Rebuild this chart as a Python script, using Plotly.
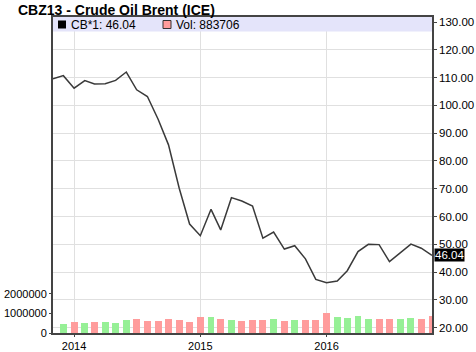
import plotly.graph_objects as go

# Monthly data (Nov 2013 .. Nov 2016)
price_months = ["2013-11-01", "2013-12-01",
                "2014-01-01", "2014-02-01", "2014-03-01", "2014-04-01", "2014-05-01", "2014-06-01",
                "2014-07-01", "2014-08-01", "2014-09-01", "2014-10-01", "2014-11-01", "2014-12-01",
                "2015-01-01", "2015-02-01", "2015-03-01", "2015-04-01", "2015-05-01", "2015-06-01",
                "2015-07-01", "2015-08-01", "2015-09-01", "2015-10-01", "2015-11-01", "2015-12-01",
                "2016-01-01", "2016-02-01", "2016-03-01", "2016-04-01", "2016-05-01", "2016-06-01",
                "2016-07-01", "2016-08-01", "2016-09-01", "2016-10-01", "2016-11-01"]
price = [109.6, 110.7,
         106.2, 108.9, 107.7, 107.8, 109.0, 112.0,
         105.6, 103.2, 95.0, 85.8, 70.2, 57.3,
         53.1, 62.6, 55.2, 66.8, 65.6, 63.8,
         52.2, 54.4, 48.3, 49.5, 44.8, 37.4,
         36.2, 36.8, 40.5, 47.4, 50.0, 49.9,
         43.8, 47.0, 50.1, 48.6, 46.04]

vol_months = price_months[1:]
volume = [460000, 560000, 510000, 560000, 560000, 510000, 660000,
          730000, 610000, 610000, 730000, 660000, 560000,
          830000, 830000, 730000, 660000, 610000, 660000,
          660000, 730000, 610000, 660000, 660000, 660000,
          1050000, 830000, 780000, 880000, 730000, 730000,
          730000, 730000, 780000, 730000, 883706]

title = "CBZ13 - Crude Oil Brent (ICE)"
last_price = 46.04
last_vol = 883706

UP = "#96f096"
DOWN = "#ff9c9c"
vol_colors = [UP if price[i + 1] >= price[i] else DOWN for i in range(len(vol_months))]

FONT = "Liberation Sans, Arial, sans-serif"

fig = go.Figure()
fig.add_trace(go.Bar(x=vol_months, y=volume, yaxis="y2", marker=dict(color=vol_colors, line=dict(width=0)),
                     width=20 * 86400000, showlegend=False, hoverinfo="skip"))
fig.add_trace(go.Scatter(x=price_months, y=price, mode="lines", line=dict(color="#3a3a3a", width=1.5),
                         showlegend=False, cliponaxis=True))

W, H = 476, 352
L, R, T, B = 53, 44, 17, 19
pw = W - L - R
ph = H - T - B

fig.update_layout(
    width=W, height=H,
    margin=dict(l=L, r=R, t=T, b=B, pad=0, autoexpand=False),
    paper_bgcolor="white", plot_bgcolor="white",
    font=dict(family=FONT, size=11, color="black"),
    bargap=0,
    xaxis=dict(type="date", range=["2013-11-01", "2016-11-01"],
               tick0="2014-01-01", dtick="M12", tickformat="%Y", automargin=False,
               showgrid=True, gridcolor="#e0e0e0", gridwidth=1,
               showline=True, linecolor="#444444", linewidth=1.5, mirror=True,
               ticks="outside", ticklen=2, tickcolor="#444444",
               tickfont=dict(size=11), zeroline=False),
    yaxis=dict(side="right", range=[18.1, 131.8], tick0=20, dtick=10, tickformat=".2f", automargin=False,
               showgrid=True, gridcolor="#e0e0e0", gridwidth=1,
               showline=True, linecolor="#444444", linewidth=1.5, mirror=True,
               ticks="outside", ticklen=3, tickcolor="#444444", zeroline=False,
               tickfont=dict(size=11.5)),
    yaxis2=dict(overlaying="y", side="left", range=[0, 16.2e6], automargin=False,
                tickvals=[0, 1000000, 2000000], ticktext=["0", "1000000", "2000000"],
                showgrid=False, zeroline=False, showline=False,
                ticks="outside", ticklen=3, tickcolor="#444444",
                tickfont=dict(size=11)),
)

band_h = 14.5 / ph
shapes = [
    dict(type="rect", xref="paper", yref="paper", x0=0, x1=1, y0=1 - band_h, y1=1,
         fillcolor="#e4e4fa", line=dict(width=0), layer="above"),
    dict(type="rect", xref="paper", yref="paper", x0=(58 - L) / pw, x1=(66 - L) / pw,
         y0=1 - 11.5 / ph, y1=1 - 3.5 / ph, fillcolor="black", line=dict(width=0), layer="above"),
    dict(type="rect", xref="paper", yref="paper", x0=(163 - L) / pw, x1=(171 - L) / pw,
         y0=1 - 11.5 / ph, y1=1 - 3.5 / ph, fillcolor=DOWN, line=dict(color="#333333", width=1), layer="above"),
]
fig.update_layout(shapes=shapes)

annotations = [
    dict(xref="paper", yref="paper", x=(16 - L) / pw, y=1 + 7 / ph, xanchor="left", yanchor="middle",
         text="<b>" + title + "</b>", showarrow=False, font=dict(size=14, color="black")),
    dict(xref="paper", yref="paper", x=(69 - L) / pw, y=1 - 7.5 / ph, xanchor="left", yanchor="middle",
         text="CB*1: %.2f" % last_price, showarrow=False, font=dict(size=12, color="black")),
    dict(xref="paper", yref="paper", x=(174 - L) / pw, y=1 - 7.5 / ph, xanchor="left", yanchor="middle",
         text="Vol: %d" % last_vol, showarrow=False, font=dict(size=12, color="black")),
    dict(xref="paper", yref="y", x=1, y=last_price, xanchor="left", yanchor="middle", xshift=2,
         text="%.2f" % last_price, showarrow=False, bgcolor="black", borderpad=0,
         font=dict(size=11.5, color="white")),
]
fig.update_layout(annotations=annotations)

fig.write_html("out.html")
